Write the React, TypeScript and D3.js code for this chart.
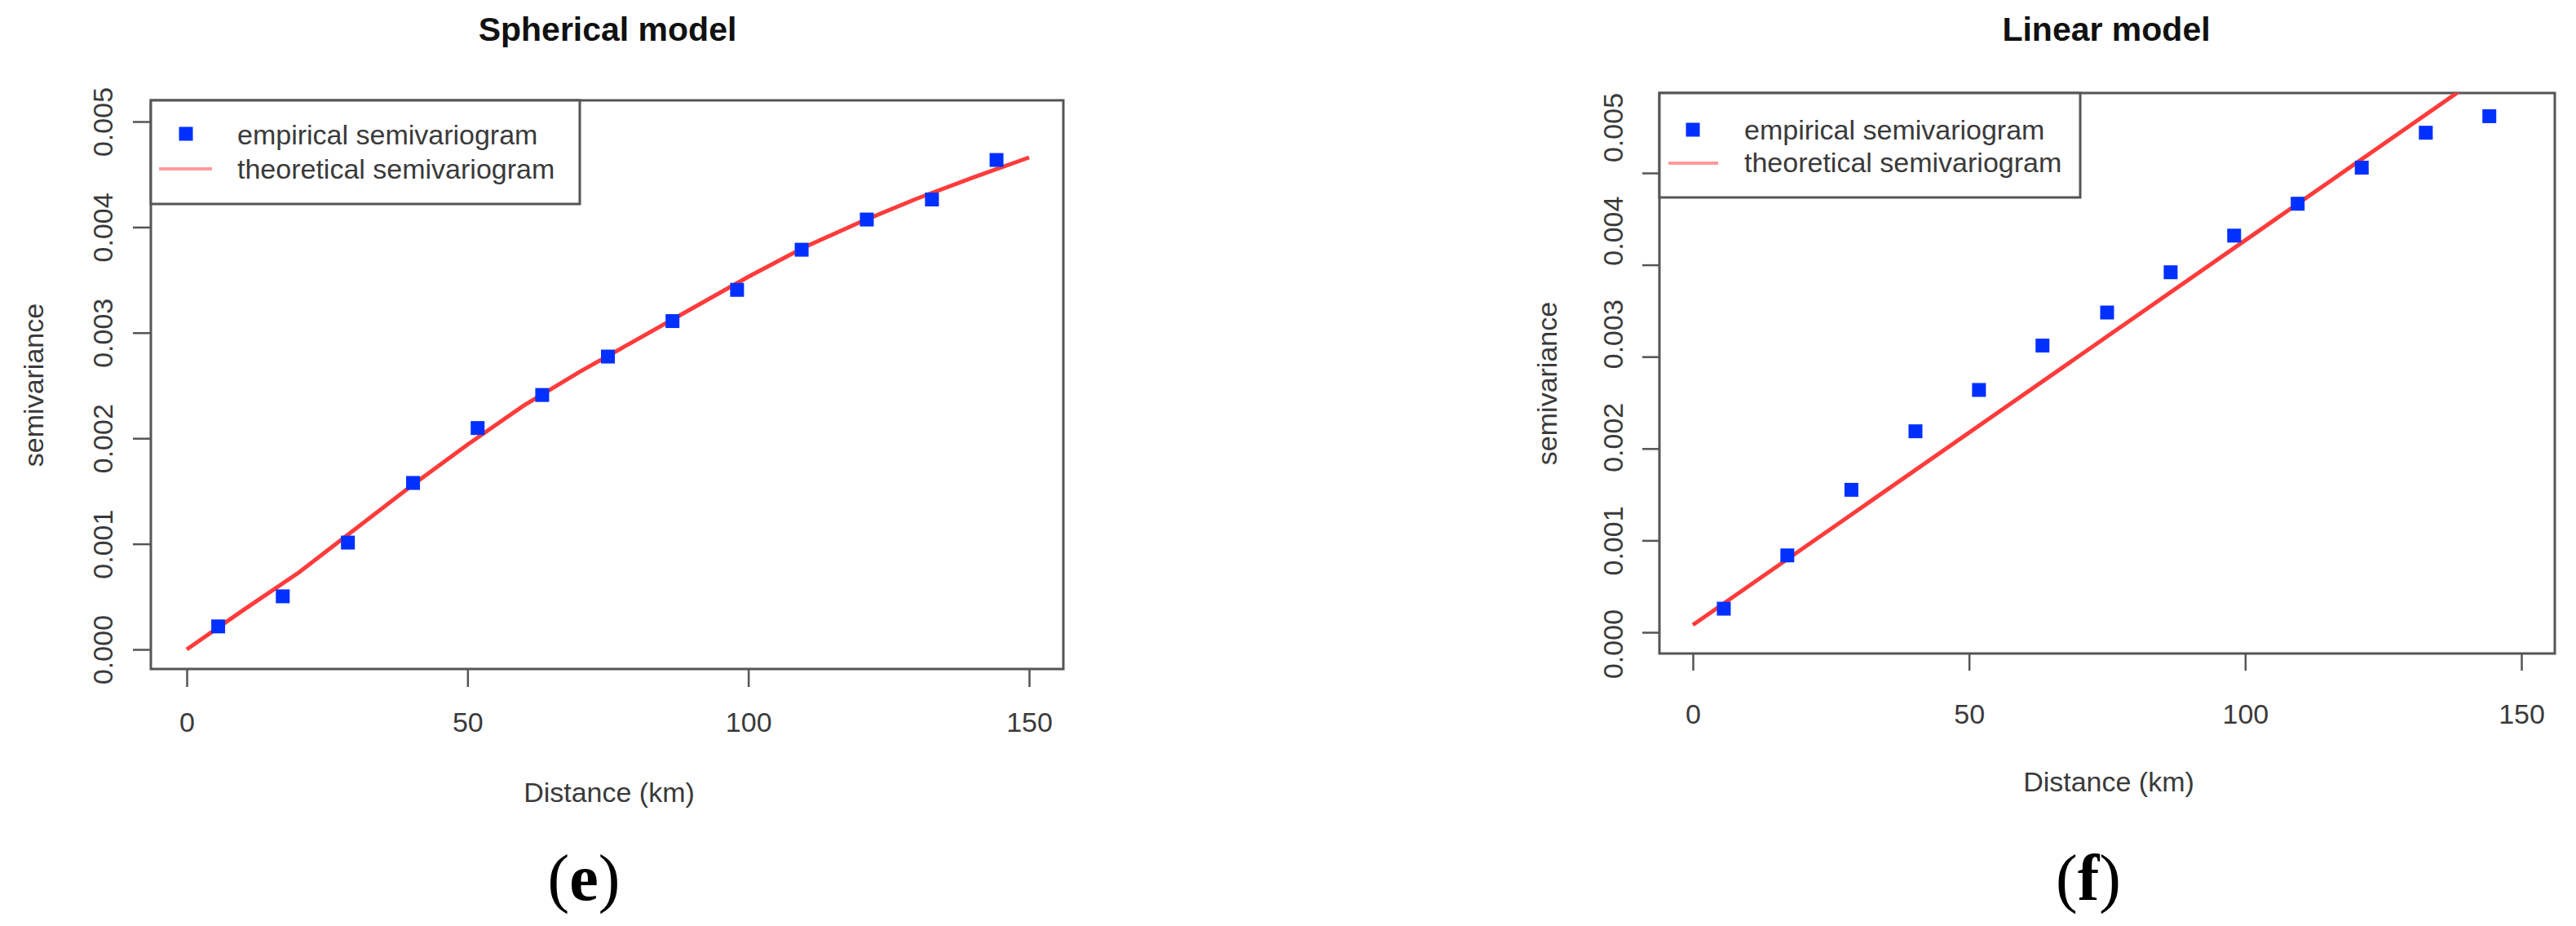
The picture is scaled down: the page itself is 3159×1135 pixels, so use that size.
import React, { useEffect, useRef } from "react";
import * as d3 from "d3";

// lag distances of the empirical semivariogram (km)
const distanceKm = [5.6, 17.1, 28.7, 40.3, 51.8, 63.3, 75.0, 86.5, 98.0, 109.5, 121.1, 132.7, 144.2];

// panel (e): spherical model
const sphericalEmpirical = [0.000218, 0.000503, 0.001012, 0.001577, 0.002097, 0.00241, 0.002774, 0.00311, 0.003406, 0.003786, 0.004072, 0.004262, 0.004636];
const sphericalFitKm = [0, 10, 20, 30, 40, 50, 60, 70, 80, 90, 100, 110, 120, 130, 140, 150];
const sphericalFit = [0, 0.00037, 0.00073, 0.00114, 0.00155, 0.00194, 0.00231, 0.00263, 0.00293, 0.00323, 0.00353, 0.00381, 0.00405, 0.00427, 0.00447, 0.00466];

// panel (f): linear model
const linearEmpirical = [0.000257, 0.000837, 0.001551, 0.002188, 0.002638, 0.003121, 0.003481, 0.003919, 0.004318, 0.004665, 0.005058, 0.005438, 0.005618];
const linearFitKm = [0, 150];
const linearFit = [0.00008, 0.00636];

const xTicks = [0, 50, 100, 150];
const yTicks = [0, 0.001, 0.002, 0.003, 0.004, 0.005];
const legendLabels = ["empirical semivariogram", "theoretical semivariogram"];

const FONT = "'Liberation Sans', Arial, Helvetica, sans-serif";
const POINT_COLOR = "#0030ff";
const LINE_COLOR = "#ff3b3b";
const AXIS_COLOR = "#555";
const TEXT_COLOR = "#3a3a3a";

const panels = [
  {
    title: "Spherical model", tag: "e",
    empirical: sphericalEmpirical, fitKm: sphericalFitKm, fit: sphericalFit,
    box: { left: 185, right: 1304, top: 123, bottom: 820 },
    xRange: [229, 1262], yRange: [796, 149], labRange: [796, 149],
    tickLen: 22, yLabX: -47, xLabY: 77,
    titleX: 745, distX: 747, distY: 983, semiX: 53, semiY: 472, tagX: 716,
    legend: { right: 711, bottom: 250, ptX: 228, ptY: 164, lineX: [195, 260], lineY: 207, textX: 291, textY: [177, 219] },
  },
  {
    title: "Linear model", tag: "f",
    empirical: linearEmpirical, fitKm: linearFitKm, fit: linearFit,
    box: { left: 2035, right: 3133, top: 114, bottom: 801 },
    xRange: [2076, 3092], yRange: [775, 212], labRange: [789, 156],
    tickLen: 21, yLabX: -45, xLabY: 86,
    titleX: 2583, distX: 2586, distY: 970, semiX: 1909, semiY: 470, tagX: 2561,
    legend: { right: 2551, bottom: 242, ptX: 2076, ptY: 159, lineX: [2046, 2107], lineY: 200, textX: 2139, textY: [171, 211] },
  },
];

const App = () => {
  const ref = useRef(null);

  useEffect(() => {
    const svg = d3.select(ref.current);
    svg.selectAll("*").remove();

    svg.append("rect").attr("width", 3159).attr("height", 1135).attr("fill", "#fff");

    panels.forEach((p, idx) => {
      const g = svg.append("g");
      const b = p.box;
      const x = d3.scaleLinear().domain([0, 150]).range(p.xRange);
      const y = d3.scaleLinear().domain([0, 0.005]).range(p.yRange);
      // tick labels in the original sit slightly off their ticks on panel (f)
      const yLab = d3.scaleLinear().domain([0, 0.005]).range(p.labRange);

      // title
      g.append("text")
        .attr("x", p.titleX).attr("y", 50)
        .attr("text-anchor", "middle")
        .attr("font-family", FONT).attr("font-weight", "bold").attr("font-size", 41)
        .attr("fill", "#111")
        .text(p.title);

      // x axis
      const xAxis = g.append("g")
        .attr("transform", `translate(0,${b.bottom})`)
        .call(d3.axisBottom(x).tickValues(xTicks).tickSize(p.tickLen).tickFormat(d3.format("d")));
      xAxis.select(".domain").remove();
      xAxis.selectAll(".tick line").attr("stroke", AXIS_COLOR).attr("stroke-width", 2.5);
      xAxis.selectAll(".tick text")
        .attr("y", p.xLabY).attr("dy", 0)
        .attr("font-family", FONT).attr("font-size", 34).attr("fill", TEXT_COLOR);

      // y axis
      const yAxis = g.append("g")
        .attr("transform", `translate(${b.left},0)`)
        .call(d3.axisLeft(y).tickValues(yTicks).tickSize(p.tickLen).tickFormat(d3.format(".3f")));
      yAxis.select(".domain").remove();
      yAxis.selectAll(".tick line").attr("stroke", AXIS_COLOR).attr("stroke-width", 2.5);
      yAxis.selectAll(".tick text")
        .attr("x", 0).attr("y", 0).attr("dy", 0)
        .attr("text-anchor", "middle")
        .attr("transform", (d) => `translate(${p.yLabX},${yLab(d) - y(d)}) rotate(-90)`)
        .attr("font-family", FONT).attr("font-size", 34).attr("fill", TEXT_COLOR);

      // axis titles
      g.append("text")
        .attr("x", p.distX).attr("y", p.distY)
        .attr("text-anchor", "middle")
        .attr("font-family", FONT).attr("font-size", 34).attr("fill", TEXT_COLOR)
        .text("Distance (km)");

      g.append("text")
        .attr("transform", `translate(${p.semiX},${p.semiY}) rotate(-90)`)
        .attr("text-anchor", "middle")
        .attr("font-family", FONT).attr("font-size", 34).attr("fill", TEXT_COLOR)
        .text("semivariance");

      // plot box
      g.append("rect")
        .attr("x", b.left).attr("y", b.top)
        .attr("width", b.right - b.left).attr("height", b.bottom - b.top)
        .attr("fill", "none").attr("stroke", AXIS_COLOR).attr("stroke-width", 3);

      const clipId = `clip-${idx}`;
      g.append("clipPath").attr("id", clipId)
        .append("rect")
        .attr("x", b.left).attr("y", b.top)
        .attr("width", b.right - b.left).attr("height", b.bottom - b.top);

      // theoretical semivariogram
      const line = d3.line().x((d) => x(d[0])).y((d) => y(d[1]));
      g.append("path")
        .attr("clip-path", `url(#${clipId})`)
        .attr("d", line(d3.zip(p.fitKm, p.fit)))
        .attr("fill", "none")
        .attr("stroke", LINE_COLOR).attr("stroke-width", 5);

      // empirical semivariogram
      const s = 17;
      g.append("g").selectAll("rect")
        .data(d3.zip(distanceKm, p.empirical))
        .join("rect")
        .attr("x", (d) => x(d[0]) - s / 2)
        .attr("y", (d) => y(d[1]) - s / 2)
        .attr("width", s).attr("height", s)
        .attr("fill", POINT_COLOR);

      // legend
      const L = p.legend;
      g.append("rect")
        .attr("x", b.left).attr("y", b.top)
        .attr("width", L.right - b.left).attr("height", L.bottom - b.top)
        .attr("fill", "#fff").attr("stroke", AXIS_COLOR).attr("stroke-width", 3);
      g.append("rect")
        .attr("x", L.ptX - s / 2).attr("y", L.ptY - s / 2)
        .attr("width", s).attr("height", s)
        .attr("fill", POINT_COLOR);
      g.append("line")
        .attr("x1", L.lineX[0]).attr("x2", L.lineX[1])
        .attr("y1", L.lineY).attr("y2", L.lineY)
        .attr("stroke", "#ff9a9a").attr("stroke-width", 4);
      legendLabels.forEach((lab, i) => {
        g.append("text")
          .attr("x", L.textX).attr("y", L.textY[i])
          .attr("font-family", FONT).attr("font-size", 34).attr("fill", TEXT_COLOR)
          .text(lab);
      });

      // panel tag
      const tag = g.append("text")
        .attr("x", p.tagX).attr("y", 1103)
        .attr("text-anchor", "middle")
        .attr("font-family", "'Liberation Serif', 'Times New Roman', serif")
        .attr("font-size", 80).attr("fill", "#000");
      tag.append("tspan").text("(");
      tag.append("tspan").attr("font-weight", "bold").text(p.tag);
      tag.append("tspan").text(")");
    });
  }, []);

  return (
    <svg
      ref={ref}
      width={3159}
      height={1135}
      style={{ position: "absolute", left: 0, top: 0, display: "block" }}
    />
  );
};

export default App;
